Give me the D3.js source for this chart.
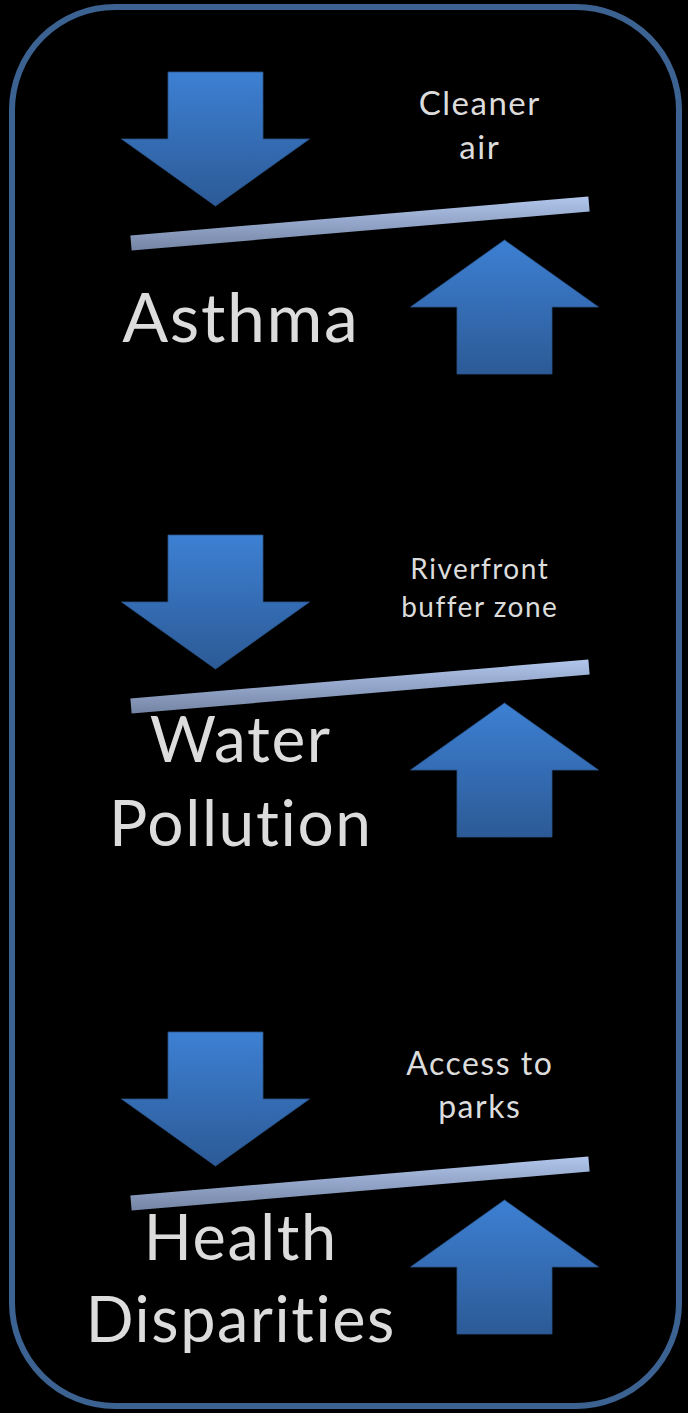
<html>
<head>
  <style>
  body {
    margin: 0;
    background: #000;
  }
  svg {
    display: block;
  }
  text {
    font-variant-ligatures: none;
    font-feature-settings: "liga" 0, "clig" 0;
  }
  </style>
</head>
<body>
  <div id="chart"></div>
  <script src="https://d3js.org/d3.v7.min.js"></script>
  <script>
  'use strict';

  // problems on the left, what the project brings on the right
  var problems = ['Asthma', 'Water Pollution', 'Health Disparities'];
  var problemLines = [['Asthma'], ['Water', 'Pollution'], ['Health', 'Disparities']];
  var benefitLines = [['Cleaner', 'air'], ['Riverfront', 'buffer zone'], ['Access to', 'parks']];

  var width = 688,
      height = 1413;

  var svg = d3.select('#chart').append('svg')
      .attr('width', width)
      .attr('height', height);

  var defs = svg.append('defs');

  var arrowGrad = defs.append('linearGradient')
      .attr('id', 'arrow-grad')
      .attr('x1', 0).attr('y1', 0).attr('x2', 0).attr('y2', 1);
  arrowGrad.append('stop').attr('offset', '0%').attr('stop-color', '#3d80d3');
  arrowGrad.append('stop').attr('offset', '100%').attr('stop-color', '#2c5a96');

  var barGrad = defs.append('linearGradient')
      .attr('id', 'bar-grad')
      .attr('x1', 0).attr('y1', 0).attr('x2', 0).attr('y2', 1);
  barGrad.append('stop').attr('offset', '0%').attr('stop-color', '#b1c6ec');
  barGrad.append('stop').attr('offset', '100%').attr('stop-color', '#7484a4');

  // frame
  svg.append('rect')
      .attr('x', 12).attr('y', 7)
      .attr('width', 667).attr('height', 1399)
      .attr('rx', 103).attr('ry', 103)
      .attr('fill', '#000')
      .attr('stroke', '#3c6291')
      .attr('stroke-width', 6);

  // top of each section (top of the down arrow)
  var y = d3.scaleOrdinal().domain(problems).range([72, 535, 1032]);
  var labelSize = d3.scaleOrdinal().domain(problems).range([68, 64, 63]);
  var benefitSize = d3.scaleOrdinal().domain(problems).range([33, 28, 32]);

  var line = d3.line();

  function downArrow(y0) {
    return line([[168, y0], [263, y0], [263, y0 + 67], [309.5, y0 + 67],
                 [215.5, y0 + 134], [121.5, y0 + 67], [168, y0 + 67]]) + 'Z';
  }

  function upArrow(y0) {
    var t = y0 + 168;
    return line([[504.5, t], [598.5, t + 67], [552, t + 67], [552, t + 134],
                 [457, t + 134], [457, t + 67], [410.5, t + 67]]) + 'Z';
  }

  function bar(y0) {
    var a = [131, y0 + 171], b = [589, y0 + 132], half = 7.5;
    var dx = b[0] - a[0], dy = b[1] - a[1], len = Math.hypot(dx, dy);
    var nx = -dy / len * half, ny = dx / len * half;
    return line([[a[0] + nx, a[1] + ny], [b[0] + nx, b[1] + ny],
                 [b[0] - nx, b[1] - ny], [a[0] - nx, a[1] - ny]]) + 'Z';
  }

  var sections = svg.selectAll('g.section')
      .data(problems)
      .enter().append('g')
      .attr('class', 'section');

  sections.append('path')
      .attr('d', d => downArrow(y(d)))
      .attr('fill', 'url(#arrow-grad)')
      .attr('stroke', '#2b5488')
      .attr('stroke-width', 0.8);

  sections.append('path')
      .attr('d', d => upArrow(y(d)))
      .attr('fill', 'url(#arrow-grad)')
      .attr('stroke', '#2b5488')
      .attr('stroke-width', 0.8);

  sections.append('path')
      .attr('d', d => bar(y(d)))
      .attr('fill', 'url(#bar-grad)');

  // stack lines of a label around a vertical centre
  function stack(sel, lines, x, c, fs, lh, ls) {
    var cap = fs * 0.717;
    sel.selectAll('tspan')
      .data(lines)
      .enter().append('tspan')
      .attr('x', x + ls / 2)
      .attr('y', (t, j) => c + cap / 2 + (j - (lines.length - 1) / 2) * lh)
      .text(t => t);
  }

  // problem label, block centred vertically
  sections.append('text')
      .attr('text-anchor', 'middle')
      .attr('fill', '#dcdcdc')
      .attr('font-family', 'Lato, "Open Sans", sans-serif')
      .attr('font-size', d => labelSize(d))
      .attr('letter-spacing', 1.6)
      .each(function(d, i) {
        var fs = labelSize(d);
        stack(d3.select(this), problemLines[i], 240, y(d) + 246, fs, fs * 1.3, 1.6);
      });

  // benefit label
  sections.append('text')
      .attr('text-anchor', 'middle')
      .attr('fill', '#dcdcdc')
      .attr('font-family', 'Lato, "Open Sans", sans-serif')
      .attr('font-size', d => benefitSize(d))
      .attr('letter-spacing', 1.5)
      .each(function(d, i) {
        var fs = benefitSize(d);
        stack(d3.select(this), benefitLines[i], 479, y(d) + 53, fs, fs * 1.34, 1.5);
      });
  </script>
</body>
</html>
